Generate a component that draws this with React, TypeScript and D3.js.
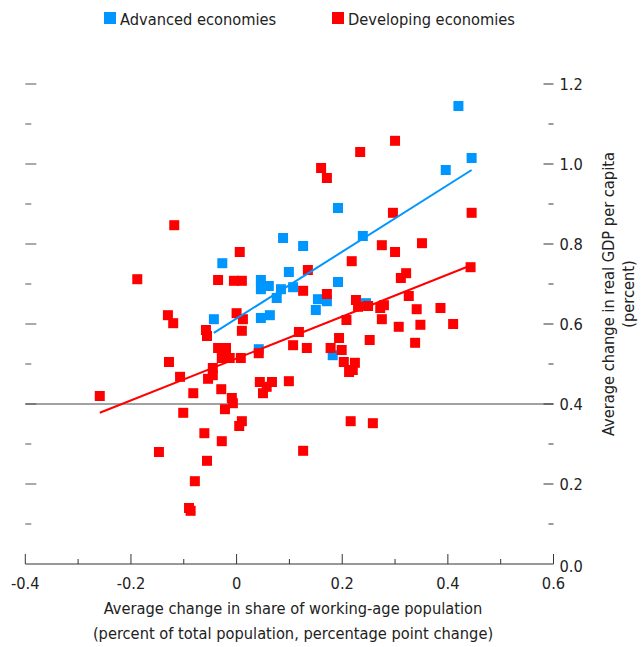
import React from "react";
import * as d3 from "d3";

// Advanced economies: [x, y]
const advancedX = [0.420, 0.445, 0.396, 0.192, 0.239, 0.088, 0.126, -0.027, 0.099, 0.046, 0.046, 0.061, 0.084, 0.107, 0.076, 0.192, 0.154, 0.171, 0.150, 0.245, -0.043, 0.046, 0.063, 0.042, 0.182];
const advancedY = [1.145, 1.015, 0.985, 0.890, 0.820, 0.815, 0.795, 0.752, 0.730, 0.710, 0.687, 0.695, 0.687, 0.692, 0.665, 0.705, 0.662, 0.657, 0.635, 0.652, 0.612, 0.615, 0.622, 0.537, 0.522];

// Developing economies
const developingX = [0.300, 0.234, 0.160, 0.171, 0.296, 0.445, -0.118, 0.351, 0.275, 0.300, 0.006, 0.218, 0.135, 0.321, 0.311, -0.188, -0.035, -0.005, 0.010, 0.443, 0.126, 0.171, 0.326, 0.226, 0.279, 0.249, 0.230, 0.272, 0.386, 0.341, -0.130, 0.000, 0.275, 0.208, 0.012, -0.120, 0.410, 0.348, 0.307, -0.058, 0.010, 0.118, -0.056, 0.194, 0.252, 0.338, 0.107, 0.133, 0.178, 0.199, -0.035, -0.020, 0.042, -0.128, -0.028, -0.013, 0.008, 0.203, 0.224, 0.220, 0.213, -0.045, -0.045, -0.054, -0.107, 0.044, 0.067, 0.099, 0.057, 0.050, -0.082, -0.029, -0.259, -0.009, -0.007, -0.022, -0.101, 0.010, 0.216, 0.258, 0.005, -0.061, -0.028, 0.126, -0.147, -0.056, -0.079, -0.090, -0.087];
const developingY = [1.058, 1.030, 0.990, 0.965, 0.878, 0.878, 0.847, 0.802, 0.797, 0.780, 0.780, 0.757, 0.735, 0.727, 0.715, 0.712, 0.710, 0.708, 0.708, 0.742, 0.683, 0.675, 0.670, 0.660, 0.647, 0.645, 0.643, 0.640, 0.640, 0.637, 0.622, 0.627, 0.612, 0.610, 0.612, 0.602, 0.600, 0.598, 0.593, 0.585, 0.583, 0.580, 0.570, 0.565, 0.560, 0.553, 0.547, 0.540, 0.540, 0.535, 0.540, 0.540, 0.527, 0.505, 0.515, 0.515, 0.515, 0.505, 0.503, 0.485, 0.480, 0.490, 0.472, 0.463, 0.468, 0.455, 0.455, 0.457, 0.443, 0.427, 0.427, 0.437, 0.420, 0.415, 0.402, 0.387, 0.378, 0.357, 0.357, 0.352, 0.345, 0.327, 0.307, 0.283, 0.280, 0.258, 0.207, 0.140, 0.133];

// Fitted lines: [[x0, y0], [x1, y1]]
const advancedFit: [number, number][] = [[-0.043, 0.578], [0.445, 0.985]];
const developingFit: [number, number][] = [[-0.259, 0.378], [0.437, 0.743]];

const xMajorTicks = [-0.4, -0.2, 0, 0.2, 0.4, 0.6];
const xMajorLabels = ["-0.4", "-0.2", "0", "0.2", "0.4", "0.6"];
const xMinorTicks = [-0.3, -0.1, 0.1, 0.3, 0.5];
const yMajorTicks = [0, 0.2, 0.4, 0.6, 0.8, 1.0, 1.2];
const yMajorLabels = ["0.0", "0.2", "0.4", "0.6", "0.8", "1.0", "1.2"];
const yMinorTicks = [0.1, 0.3, 0.5, 0.7, 0.9, 1.1];
const seriesNames = ["Advanced economies", "Developing economies"];
const referenceY = 0.4;

const BLUE = "#0096ff";
const RED = "#ff0000";
const FONT = "'Liberation Sans Narrow', 'Arial Narrow', 'DejaVu Sans Condensed', sans-serif";

export default function App() {
  const W = 642, H = 647;
  const x = d3.scaleLinear().domain([-0.4, 0.6]).range([25.3, 553.5]);
  const y = d3.scaleLinear().domain([0, 1.2]).range([564, 84]);
  const line = d3.line<[number, number]>().x(d => x(d[0])).y(d => y(d[1]));
  const S = 10;
  const axisColor = "#333";
  const FS = 16.3;

  return (
    <svg width={W} height={H} style={{ position: "absolute", left: 0, top: 0 }} fontFamily={FONT}>
      {/* reference line */}
      <line x1={x(-0.4)} x2={x(0.6)} y1={y(referenceY)} y2={y(referenceY)} stroke="#444" strokeWidth={1} />
      {/* bottom axis */}
      <line x1={x(-0.4)} x2={x(0.6)} y1={y(0)} y2={y(0)} stroke={axisColor} strokeWidth={1} />
      {xMajorTicks.map((t, i) => (
        <g key={"xm" + i}>
          <line x1={x(t)} x2={x(t)} y1={y(0)} y2={y(0) - 10} stroke={axisColor} />
          <text x={x(t)} y={y(0) + 25} textAnchor="middle" fontSize={FS} fill="#222">{xMajorLabels[i]}</text>
        </g>
      ))}
      {xMinorTicks.map((t, i) => (
        <line key={"xn" + i} x1={x(t)} x2={x(t)} y1={y(0)} y2={y(0) - 5} stroke={axisColor} />
      ))}
      {/* left ticks */}
      {yMajorTicks.slice(1).map((t, i) => (
        <line key={"yl" + i} x1={x(-0.4)} x2={x(-0.4) + 11} y1={y(t)} y2={y(t)} stroke="#555" />
      ))}
      {yMinorTicks.map((t, i) => (
        <line key={"yln" + i} x1={x(-0.4)} x2={x(-0.4) + 6} y1={y(t)} y2={y(t)} stroke="#555" />
      ))}
      {/* right ticks + labels */}
      {yMajorTicks.map((t, i) => (
        <g key={"yr" + i}>
          {i > 0 && <line x1={x(0.6) - 10} x2={x(0.6)} y1={y(t)} y2={y(t)} stroke={axisColor} />}
          <text x={x(0.6) + 6} y={y(t) + (i === 0 ? 8 : 6)} fontSize={FS} fill="#222">{yMajorLabels[i]}</text>
        </g>
      ))}
      {yMinorTicks.map((t, i) => (
        <line key={"yrn" + i} x1={x(0.6) - 5} x2={x(0.6)} y1={y(t)} y2={y(t)} stroke={axisColor} />
      ))}
      {/* points */}
      {advancedX.map((v, i) => (
        <rect key={"a" + i} x={x(v) - S / 2} y={y(advancedY[i]) - S / 2} width={S} height={S} fill={BLUE} />
      ))}
      {developingX.map((v, i) => (
        <rect key={"d" + i} x={x(v) - S / 2} y={y(developingY[i]) - S / 2} width={S} height={S} fill={RED} />
      ))}
      {/* fit lines */}
      <path d={line(advancedFit) || ""} stroke={BLUE} strokeWidth={2} fill="none" />
      <path d={line(developingFit) || ""} stroke={RED} strokeWidth={2} fill="none" />
      {/* legend */}
      <rect x={104} y={12} width={12} height={12} fill={BLUE} />
      <text x={120} y={25} fontSize={FS} fill="#222">{seriesNames[0]}</text>
      <rect x={332} y={12} width={12} height={12} fill={RED} />
      <text x={348} y={25} fontSize={FS} fill="#222">{seriesNames[1]}</text>
      {/* x title */}
      <text x={293} y={614} textAnchor="middle" fontSize={FS} fill="#222">Average change in share of working-age population</text>
      <text x={293} y={639} textAnchor="middle" fontSize={FS} fill="#222">(percent of total population, percentage point change)</text>
      {/* y title */}
      <text transform={`translate(614, 294) rotate(-90)`} textAnchor="middle" fontSize={FS} fill="#222">Average change in real GDP per capita</text>
      <text transform={`translate(634, 294) rotate(-90)`} textAnchor="middle" fontSize={FS} fill="#222">(percent)</text>
    </svg>
  );
}
